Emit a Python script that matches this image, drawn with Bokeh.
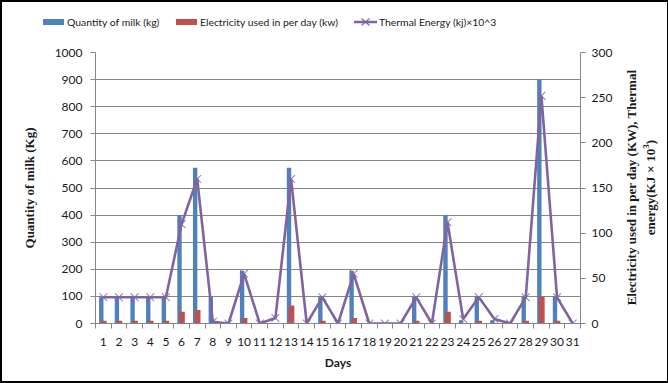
from bokeh.plotting import figure
from bokeh.layouts import column, row
from bokeh.models import (ColumnDataSource, Range1d, LinearAxis, FixedTicker, Div)
from bokeh.transform import dodge
from bokeh.embed import file_html
from bokeh.resources import INLINE

# Daily records for one month
days = list(range(1, 32))
milk_kg = [100, 100, 100, 100, 100, 400, 575, 100, 0, 195,
           0, 0, 575, 0, 100, 0, 195, 0, 0, 0,
           100, 0, 400, 12, 100, 12, 0, 100, 900, 100, 0]
electricity_kw = [3, 3, 3, 3, 3, 13, 15, 0, 0, 6,
                  0, 0, 20, 0, 3, 0, 6, 0, 0, 0,
                  3, 0, 13, 0, 3, 0, 0, 3, 30, 3, 0]
thermal_kj_e3 = [29, 29, 29, 29, 29, 110, 160, 2, 0, 55,
                 0, 6, 160, 0, 29, 0, 55, 0, 0, 0,
                 29, 0, 112, 5, 29, 5, 0, 29, 252, 29, 0]

left_ticks = list(range(0, 1001, 100))
right_ticks = list(range(0, 301, 50))

series_names = ["Quantity of milk (kg)", "Electricity used in per day (kw)",
                "Thermal Energy (kj)×10^3"]

BLUE = "#4F81BD"
RED = "#C0504D"
PURPLE = "#8064A2"
AXIS_GREY = "#868686"
TEXT = "#1a1a1a"
SANS = "Lato"
SERIF = "Liberation Serif"

src = ColumnDataSource(dict(day=days, milk=milk_kg,
                            elec=electricity_kw, thermal=thermal_kj_e3))

# ---- main chart ----
p = figure(frame_width=485, frame_height=271,
           x_range=Range1d(0.5, 31.5), y_range=Range1d(0, 1000),
           output_backend="svg", toolbar_location=None,
           min_border_left=93, min_border_right=34,
           min_border_top=10, min_border_bottom=58)
p.extra_y_ranges = {"right": Range1d(0, 300)}
p.outline_line_color = None

p.vbar(x=dodge("day", -0.13), top="milk", width=0.28,
       source=src, fill_color=BLUE, line_color=None)
p.vbar(x=dodge("day", 0.03), top="elec", width=0.36,
       source=src, fill_color=RED, line_color=None, y_range_name="right")
p.line(x="day", y="thermal", source=src, line_color=PURPLE,
       line_width=2.6, y_range_name="right")
p.scatter(x="day", y="thermal", source=src, marker="x", size=11,
          line_color=PURPLE, line_width=1.1, line_alpha=0.8,
          y_range_name="right")

# grid
p.xgrid.visible = False
p.ygrid.ticker = FixedTicker(ticks=left_ticks)
p.ygrid.grid_line_color = AXIS_GREY
p.ygrid.grid_line_width = 1

# bottom axis: labels on days, tick marks between days
xa = p.xaxis[0]
xa.ticker = FixedTicker(ticks=days, minor_ticks=[d + 0.5 for d in range(0, 32)])
xa.major_tick_out = 0
xa.major_tick_in = 0
xa.minor_tick_out = 5
xa.minor_tick_in = 0
xa.minor_tick_line_color = AXIS_GREY
xa.axis_line_color = AXIS_GREY
xa.major_label_standoff = 9
xa.major_label_text_font = SANS
xa.major_label_text_font_size = "12px"
xa.major_label_text_color = TEXT
xa.axis_label = "Days"
xa.axis_label_text_font = SANS
xa.axis_label_text_font_style = "bold"
xa.axis_label_text_font_size = "12px"
xa.axis_label_text_color = TEXT
xa.axis_label_standoff = 6

# left axis
ya = p.yaxis[0]
ya.ticker = FixedTicker(ticks=left_ticks)
ya.major_tick_out = 5
ya.major_tick_in = 0
ya.minor_tick_line_color = None
ya.major_tick_line_color = AXIS_GREY
ya.axis_line_color = AXIS_GREY
ya.major_label_standoff = 8
ya.major_label_text_font = SANS
ya.major_label_text_font_size = "12px"
ya.major_label_text_color = TEXT
ya.axis_label = "Quantity of milk (Kg)"
ya.axis_label_text_font = SERIF
ya.axis_label_text_font_style = "bold"
ya.axis_label_text_font_size = "13px"
ya.axis_label_text_color = TEXT
ya.axis_label_standoff = 15

# right axis (its title is set beside it, reading bottom to top)
yr = LinearAxis(y_range_name="right", ticker=FixedTicker(ticks=right_ticks))
yr.major_tick_out = 5
yr.major_tick_in = 0
yr.minor_tick_line_color = None
yr.major_tick_line_color = AXIS_GREY
yr.axis_line_color = AXIS_GREY
yr.major_label_standoff = 6
yr.major_label_text_font = SANS
yr.major_label_text_font_size = "12px"
yr.major_label_text_color = TEXT
p.add_layout(yr, "right")

right_title = Div(
    text=(
        '<div style="width:52px;height:339px;display:flex;align-items:center;'
        'justify-content:center;box-sizing:border-box;padding-bottom:48px;">'
        '<div style="writing-mode:vertical-rl;transform:rotate(180deg);'
        f"font-family:'{SERIF}';font-weight:bold;font-size:13px;line-height:15px;"
        f'text-align:center;white-space:nowrap;color:{TEXT};">'
        'Electricity used in per day (KW), Thermal<br>'
        'energy(KJ×10<sup style="font-size:9px">3</sup>)</div></div>'
    ),
    width=52, height=339, margin=0,
)

# ---- legend strip above the chart ----
def swatch(left, color):
    return (f'<span style="position:absolute;left:{left}px;top:17px;width:21px;'
            f'height:6px;background:{color};"></span>')

def label(left, text):
    return (f'<span style="position:absolute;left:{left}px;top:13px;'
            f'line-height:14px;white-space:nowrap;">{text}</span>')

line_key = (
    '<svg style="position:absolute;left:352px;top:13px" width="23" height="14">'
    f'<line x1="0" y1="7" x2="23" y2="7" stroke="{PURPLE}" stroke-width="2.5"/>'
    f'<path d="M7.5 3.5 L15.5 10.5 M15.5 3.5 L7.5 10.5" stroke="{PURPLE}" stroke-width="1.1"/>'
    '</svg>'
)

legend_div = Div(
    text=(
        f'<div style="position:relative;width:664px;height:40px;'
        f"font-family:'{SANS}';font-size:10.4px;color:{TEXT};\">"
        + swatch(41, BLUE) + label(65, series_names[0])
        + swatch(174, RED) + label(198, series_names[1])
        + line_key + label(377, series_names[2])
        + '</div>'
    ),
    width=664, height=40, margin=0,
)

# black frame around the whole chart
layout = column(legend_div, row(p, right_title, spacing=0), spacing=0,
                styles={"border": "2px solid black"})

open("out.html", "w").write(file_html(layout, INLINE))
